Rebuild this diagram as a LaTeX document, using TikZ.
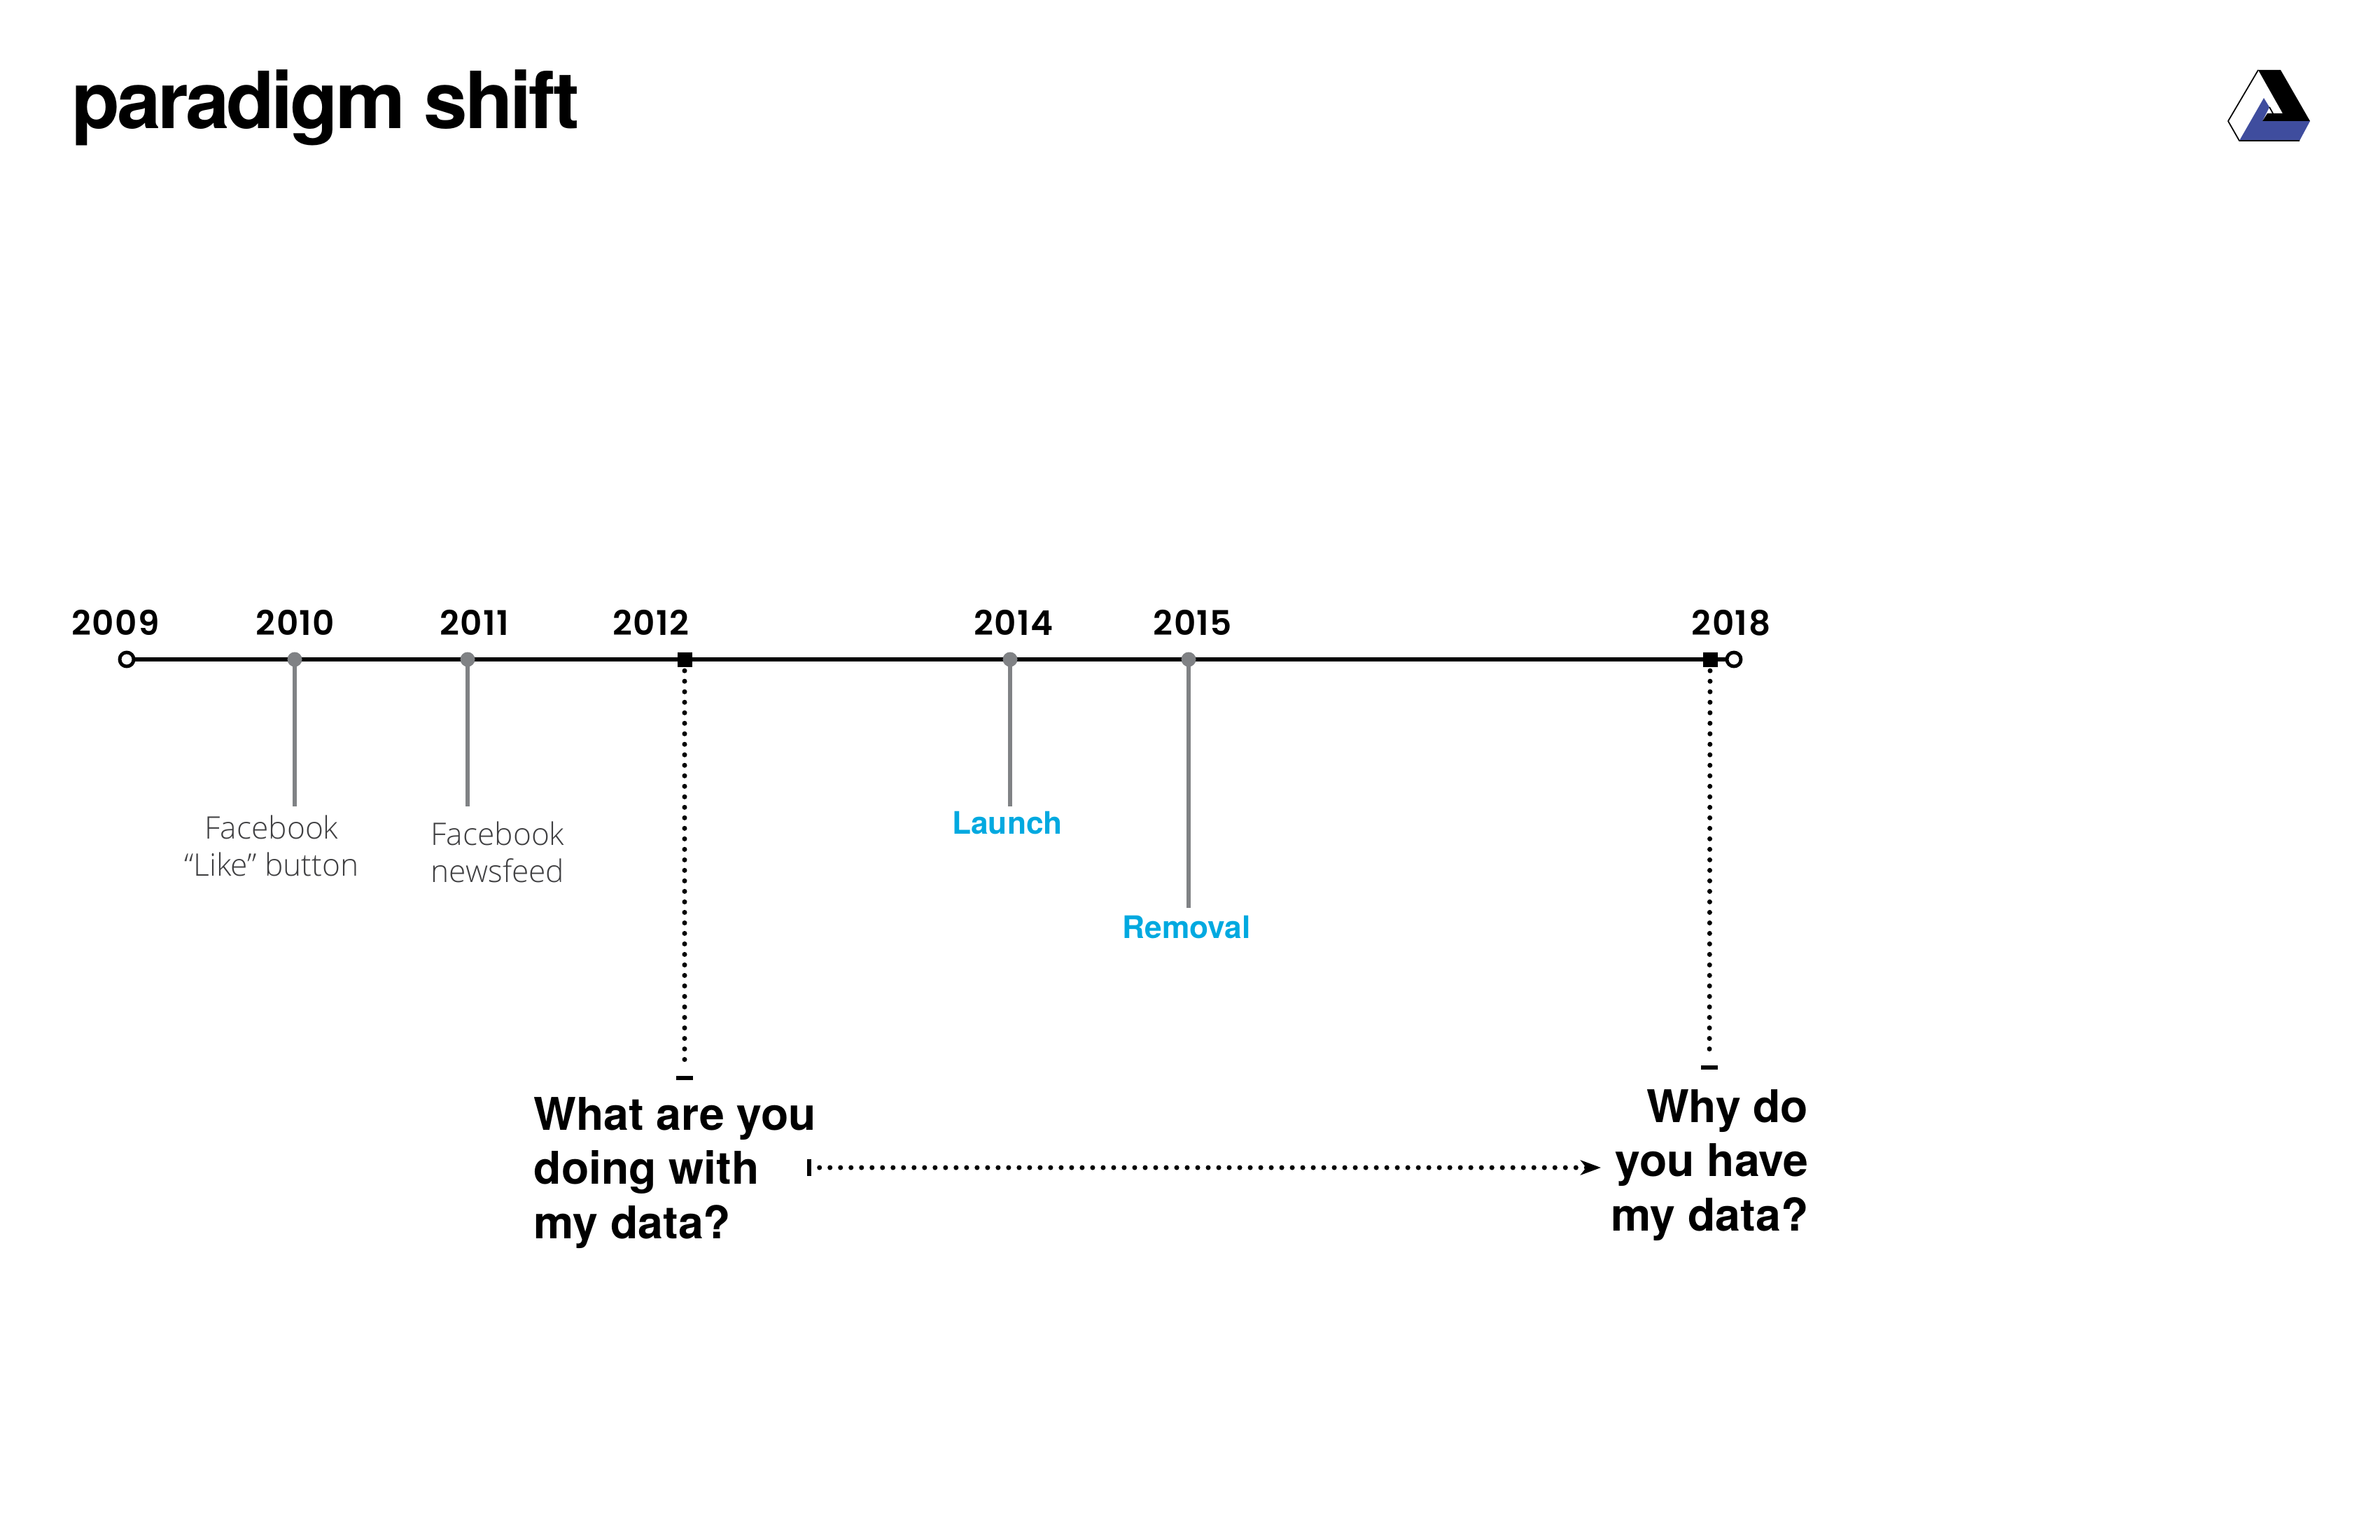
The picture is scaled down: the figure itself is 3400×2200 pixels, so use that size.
\documentclass[tikz,border=0pt]{standalone}
\usepackage{fontspec}
\setmainfont{TeX Gyre Heros}
\newfontfamily\titlefont{TeX Gyre Heros}[LetterSpace=-3.9]
\newfontfamily\yearfont{Poppins}[UprightFont=* SemiBold,LetterSpace=3]
\newfontfamily\lightfont{Open Sans}[UprightFont=* Light]
\usepackage{xcolor}
\usetikzlibrary{arrows.meta}
\definecolor{tickgrey}{HTML}{808285}
\definecolor{labelgrey}{HTML}{3F3F41}
\definecolor{skyblue}{HTML}{00A9E0}
\definecolor{logoblue}{HTML}{3F4D9E}
\tikzset{
  every picture/.style={line join=round, >=Stealth},
  yearlabel/.style={anchor=base, inner sep=0pt, font=\fontsize{13.8}{16}\yearfont},
  greylabel/.style={anchor=base, inner sep=0pt, align=center, text=labelgrey, font=\fontsize{12.6}{15}\lightfont},
  bluelabel/.style={anchor=base, inner sep=0pt, text=skyblue, font=\fontsize{12.6}{15}\selectfont\bfseries},
  question/.style={anchor=base, inner sep=0pt, font=\fontsize{18.3}{22}\selectfont\bfseries},
  ringdot/.style={circle, draw, fill=white, line width=1.4pt, minimum size=0.2cm, inner sep=0pt},
  greydot/.style={circle, fill=tickgrey, minimum size=0.21cm, inner sep=0pt},
  blacksq/.style={rectangle, fill=black, minimum size=0.21cm, inner sep=0pt},
  endbar/.style={rectangle, fill=black, minimum width=0.24cm, minimum height=0.06cm, inner sep=0pt},
  startbar/.style={rectangle, fill=black, minimum width=0.06cm, minimum height=0.24cm, inner sep=0pt},
  axis/.style={line width=1.5pt},
  stem/.style={tickgrey, line width=1.8pt},
  dots/.style={line width=2pt, line cap=round, dash pattern=on 0pt off 0.15cm},
}
\begin{document}
\begin{tikzpicture}[x=0.01cm,y=-0.01cm]
\useasboundingbox (0,0) rectangle (3400,2200);
\node[anchor=base west, inner sep=0pt, font=\fontsize{32}{40}\titlefont\bfseries] (title) at (102,184) {paradigm shift};
% logo
\fill[logoblue] (3199,201)--(3234,140)--(3242,153)--(3232,173)--(3300,173)--(3285,201)--cycle;
\fill[black] (3226,100)--(3258,100)--(3300,173)--(3232,173)--(3239,162)--(3261,162)--cycle;
\draw[line width=0.5pt] (3226,100)--(3183,173)--(3199,201)--(3285,201);
\draw[line width=0.5pt] (3242,153)--(3247,162);
% time line
\node[ringdot] (o2009) at (181,942) {};
\node[ringdot] (o2018) at (2477,942) {};
\draw[axis] (o2009)--(o2018);
\node[greydot] (d2010) at (421,942) {};
\node[greydot] (d2011) at (668,942) {};
\node[blacksq] (s2012) at (978,942) {};
\node[greydot] (d2014) at (1443,942) {};
\node[greydot] (d2015) at (1698,942) {};
\node[blacksq] (s2018) at (2443,942) {};
\node[yearlabel] (y2009) at (165,907) {2009};
\node[yearlabel] (y2010) at (422,907) {2010};
\node[yearlabel] (y2011) at (678,907) {2011};
\node[yearlabel] (y2012) at (930,907) {2012};
\node[yearlabel] (y2014) at (1448,907) {2014};
\node[yearlabel] (y2015) at (1704,907) {2015};
\node[yearlabel] (y2018) at (2473,907) {2018};
% stems
\coordinate (e2010) at (421,1152);
\coordinate (e2011) at (668,1152);
\coordinate (e2014) at (1443,1152);
\coordinate (e2015) at (1698,1297);
\foreach \y in {2010,2011,2014,2015}
  \draw[stem] (d\y.center)--(e\y);
\node[greylabel] (like) at (388,1251) {Facebook\\“Like” button};
\node[greylabel] (feed) at (711,1260) {Facebook\\newsfeed};
\node[bluelabel] (launch) at (1439,1191) {Launch};
\node[bluelabel] (removal) at (1695,1340) {Removal};
% questions
\node[endbar] (b2012) at (978,1540) {};
\node[endbar] (b2018) at (2442,1525) {};
\draw[dots, shorten <=0.05cm, shorten >=0.1cm] (s2012.south)--(b2012.north);
\draw[dots, shorten <=0.05cm, shorten >=0.1cm] (s2018.south)--(b2018.north);
\node[question, anchor=base west, align=left] (what) at (762,1769) {What are you\\doing with\\my data?};
\node[question, anchor=base east, align=right] (why) at (2584,1758) {Why do\\you have\\my data?};
\node[startbar] (q1) at (1156,1668) {};
\coordinate (q2) at (2287,1668);
\draw[dots, shorten <=0.11cm, -{Stealth[length=0.29cm,width=0.21cm,inset=0.08cm]}] (q1.east)--(q2);
\end{tikzpicture}
\end{document}
